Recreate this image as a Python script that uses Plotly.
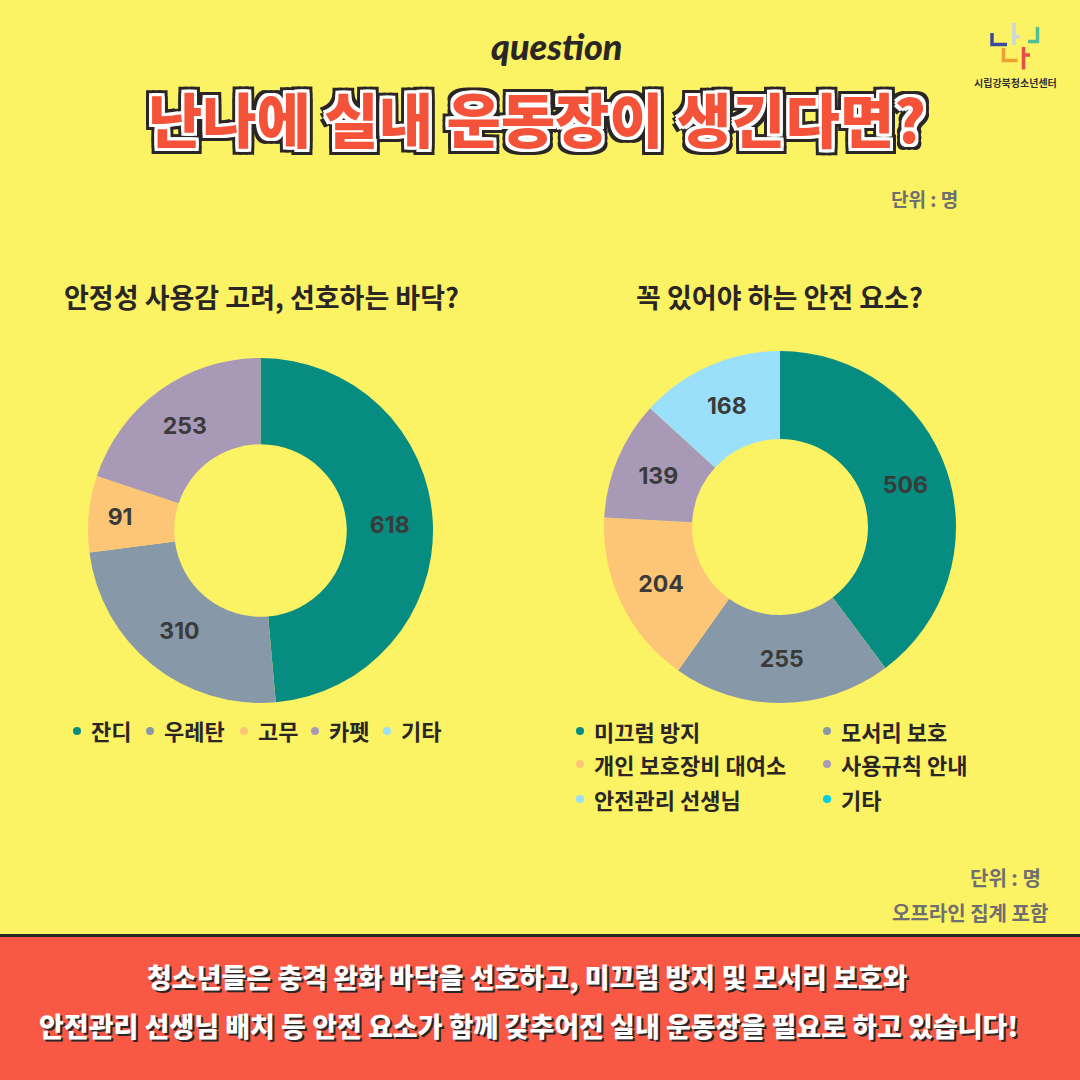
import plotly.graph_objects as go

# ---------------- data ----------------
floor_labels = ["잔디", "우레탄", "고무", "카펫", "기타"]
floor_values = [618, 310, 91, 253, 0]

safety_labels = ["미끄럼 방지", "모서리 보호", "개인 보호장비 대여소", "사용규칙 안내", "안전관리 선생님", "기타"]
safety_values = [506, 255, 204, 139, 168, 0]

floor_colors = ["#068C80", "#8799A8", "#FDC676", "#A899B7", "#9BE0FB"]
safety_colors = ["#068C80", "#8799A8", "#FDC676", "#A899B7", "#9BE0FB", "#00CFE8"]

title_text = "난나에 실내 운동장이 생긴다면?"
left_title = "안정성 사용감 고려, 선호하는 바닥?"
right_title = "꼭 있어야 하는 안전 요소?"
unit_text = "단위 : 명"
offline_text = "오프라인 집계 포함"
conclusion = ["청소년들은 충격 완화 바닥을 선호하고, 미끄럼 방지 및 모서리 보호와",
              "안전관리 선생님 배치 등 안전 요소가 함께 갖추어진 실내 운동장을 필요로 하고 있습니다!"]

# ---------------- style ----------------
W = H = 1080
BG = "#FBF264"
DARK = "#2B2626"
GREY = "#6F6F6F"
KR = "Noto Sans CJK KR"


def px(x):
    return x / W


def py(y):
    return 1 - y / H


fig = go.Figure()

fig.add_trace(go.Pie(
    labels=floor_labels, values=floor_values,
    text=[str(v) if v else "" for v in floor_values], textinfo="text",
    marker=dict(colors=floor_colors, line=dict(width=0)),
    hole=0.5, sort=False, direction="clockwise", rotation=0,
    textposition="inside", insidetextorientation="horizontal",
    textfont=dict(family="Inter", size=23, color="#3A3A3A", weight=700),
    domain=dict(x=[px(88), px(433)], y=[py(703), py(358)]),
    showlegend=False, hoverinfo="label+value",
))

fig.add_trace(go.Pie(
    labels=safety_labels, values=safety_values,
    text=[str(v) if v else "" for v in safety_values], textinfo="text",
    marker=dict(colors=safety_colors, line=dict(width=0)),
    hole=0.5, sort=False, direction="clockwise", rotation=0,
    textposition="inside", insidetextorientation="horizontal",
    textfont=dict(family="Inter", size=23, color="#3A3A3A", weight=700),
    domain=dict(x=[px(604), px(956)], y=[py(703), py(351)]),
    showlegend=False, hoverinfo="label+value",
))

annotations = []
shapes = []


def ann(text, x, y, size, color=DARK, xanchor="center", family=KR, weight=700, shadow=None, style="normal"):
    f = dict(family=family, size=size, color=color, weight=weight, style=style)
    if shadow:
        f["shadow"] = shadow
    annotations.append(dict(text=text, x=px(x), y=py(y), xref="paper", yref="paper",
                            xanchor=xanchor, yanchor="middle", showarrow=False, font=f))


# "question" script
ann("question", 557, 46, 36, color=DARK, family="Lato", weight=900, style="italic")

# main title with white + dark outline
dirs = [(1, 0), (-1, 0), (0, 1), (0, -1), (1, 1), (-1, -1), (1, -1), (-1, 1)]
white = ", ".join(f"{dx*3}px {dy*3}px 0 #FFFFFF" for dx, dy in dirs)
dark = ", ".join(f"{dx*6}px {dy*6}px 0 {DARK}" for dx, dy in dirs)
ann(title_text, 537, 117, 59, color="#F4533A", weight=900, shadow=white + ", " + dark)

# units
ann(unit_text, 960, 198, 19, color=GREY, xanchor="right")
ann(unit_text, 1043, 877, 20, color=GREY, xanchor="right")
ann(offline_text, 1050, 912, 20, color=GREY, xanchor="right")

# subtitles
ann(left_title, 261, 296, 27)
ann(right_title, 779, 296, 27)

# legends
left_dot_x = [77, 150, 244, 315, 387]
for lab, col, dx in zip(floor_labels, floor_colors, left_dot_x):
    shapes.append(dict(type="circle", xref="paper", yref="paper", line=dict(width=0), fillcolor=col,
                       x0=px(dx - 4), x1=px(dx + 4), y0=py(731 + 4), y1=py(731 - 4)))
    ann(lab, dx + 12, 730, 22, xanchor="left")

right_cols = [580, 827]
right_rows = [731, 764, 799]
for i, (lab, col) in enumerate(zip(safety_labels, safety_colors)):
    dx = right_cols[i % 2]
    dy = right_rows[i // 2]
    shapes.append(dict(type="circle", xref="paper", yref="paper", line=dict(width=0), fillcolor=col,
                       x0=px(dx - 4), x1=px(dx + 4), y0=py(dy + 4), y1=py(dy - 4)))
    ann(lab, dx + 12, dy, 22, xanchor="left")

# bottom band
shapes.append(dict(type="rect", xref="paper", yref="paper", x0=0, x1=1, y0=0, y1=py(934),
                   fillcolor="#F95844", line=dict(width=0), layer="below"))
shapes.append(dict(type="line", xref="paper", yref="paper", x0=0, x1=1, y0=py(935.5), y1=py(935.5),
                   line=dict(color=DARK, width=3)))
ann(conclusion[0], 527, 976, 27, color="#FFFFFF", weight=900, shadow=f"2px 2px 0 {DARK}")
ann(conclusion[1], 528, 1025, 27, color="#FFFFFF", weight=900, shadow=f"2px 2px 0 {DARK}")

# logo
logo = [
    ("#3D4A9C", [(992, 33), (992, 44.5), (1007, 44.5)]),
    ("#C9D6E3", [(1014, 23), (1014, 45)]),
    ("#C9D6E3", [(1014, 36.5), (1019.5, 36.5)]),
    ("#4FBF9A", [(1028, 41.5), (1037.5, 41.5), (1037.5, 27)]),
    ("#F0A030", [(1003.5, 48), (1003.5, 60.5), (1017.5, 60.5)]),
    ("#E84C4C", [(1023.5, 47), (1023.5, 69.5)]),
    ("#E84C4C", [(1023.5, 55), (1030, 55)]),
]
for col, pts in logo:
    path = "M " + " L ".join(f"{px(x):.5f},{py(y):.5f}" for x, y in pts)
    shapes.append(dict(type="path", xref="paper", yref="paper", path=path,
                       line=dict(color=col, width=3.5)))
ann("시립강북청소년센터", 1015, 83, 10, color="#333333")

fig.update_layout(
    width=W, height=H,
    margin=dict(l=0, r=0, t=0, b=0),
    paper_bgcolor=BG, plot_bgcolor=BG,
    annotations=annotations, shapes=shapes,
    showlegend=False,
)

fig.write_html(
    "out.html",
    config={"displayModeBar": False},
    post_script="document.body.style.margin='0';document.body.style.background='" + BG + "';",
)
